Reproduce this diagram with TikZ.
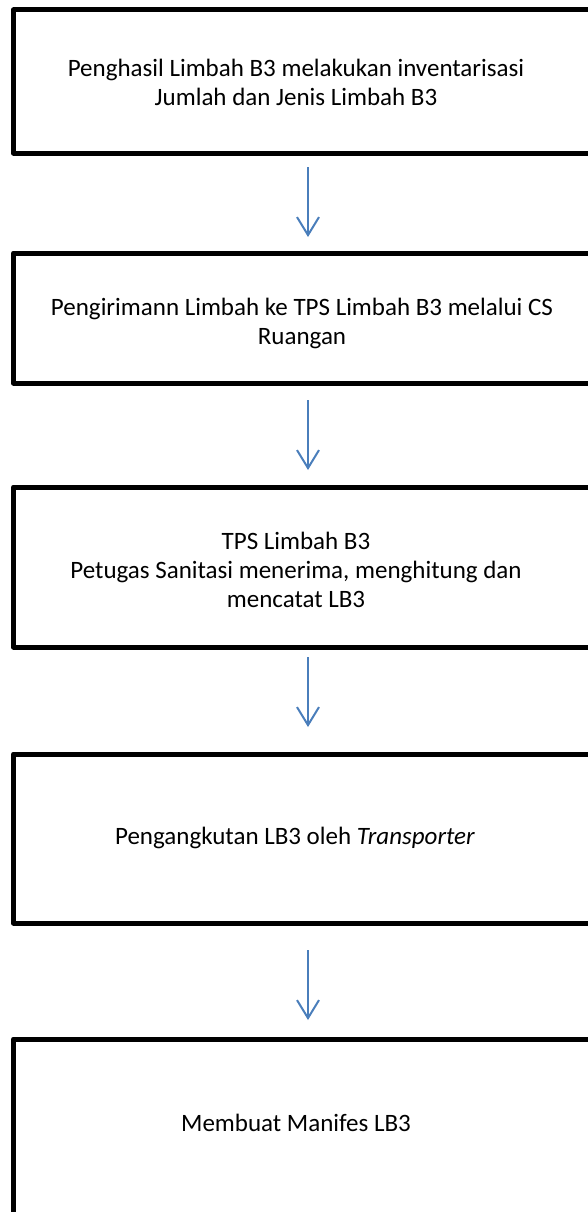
\documentclass[tikz,border=0pt]{standalone}
\usepackage{fontspec}
\setmainfont{Carlito}
\usetikzlibrary{arrows.meta,calc}
\definecolor{arrowblue}{HTML}{4A7EBB}
\begin{document}
\begin{tikzpicture}[x=1pt,y=-1pt,
  stepbox/.style={draw=black,line width=5pt,rectangle,outer sep=0pt,inner sep=0pt,
    minimum width=640pt,anchor=north west,line join=round},
  label text/.style={align=center,inner sep=0pt,font=\fontsize{25}{29}\selectfont},
  arr/.style={draw=arrowblue,line width=2pt,-{Straight Barb[length=18pt,width=22pt]}}]
\useasboundingbox (0,0) rectangle (587,1212);
\coordinate (ax) at (308,0);
\node[stepbox,minimum height=143pt] (b1) at (13.5,10) {};
\node[stepbox,minimum height=130pt] (b2) at (13.5,253) {};
\node[stepbox,minimum height=160pt] (b3) at (13.5,487) {};
\node[stepbox,minimum height=169pt] (b4) at (13.5,754) {};
\node[stepbox,minimum height=220pt] (b5) at (13.5,1039) {};
\node[label text] (t1) at (296,82.5) {Penghasil Limbah B3 melakukan inventarisasi\\Jumlah dan Jenis Limbah B3};
\node[label text] (t2) at (302,323) {Pengirimann Limbah ke TPS Limbah B3 melalui CS\\Ruangan};
\node[label text] (t3) at (296,570) {TPS Limbah B3\\Petugas Sanitasi menerima, menghitung dan\\mencatat LB3};
\node[label text] (t4) at (295,838) {Pengangkutan LB3 oleh \textit{Transporter}};
\node[label text] (t5) at (296,1123) {Membuat Manifes LB3};
\draw[arr,shorten <=14pt,shorten >=16pt] (b1.south -| ax) -- (b2.north -| ax);
\draw[arr,shorten <=17pt,shorten >=17pt] (b2.south -| ax) -- (b3.north -| ax);
\draw[arr,shorten <=10pt,shorten >=27pt] (b3.south -| ax) -- (b4.north -| ax);
\draw[arr,shorten <=27pt,shorten >=19pt] (b4.south -| ax) -- (b5.north -| ax);
\end{tikzpicture}
\end{document}
